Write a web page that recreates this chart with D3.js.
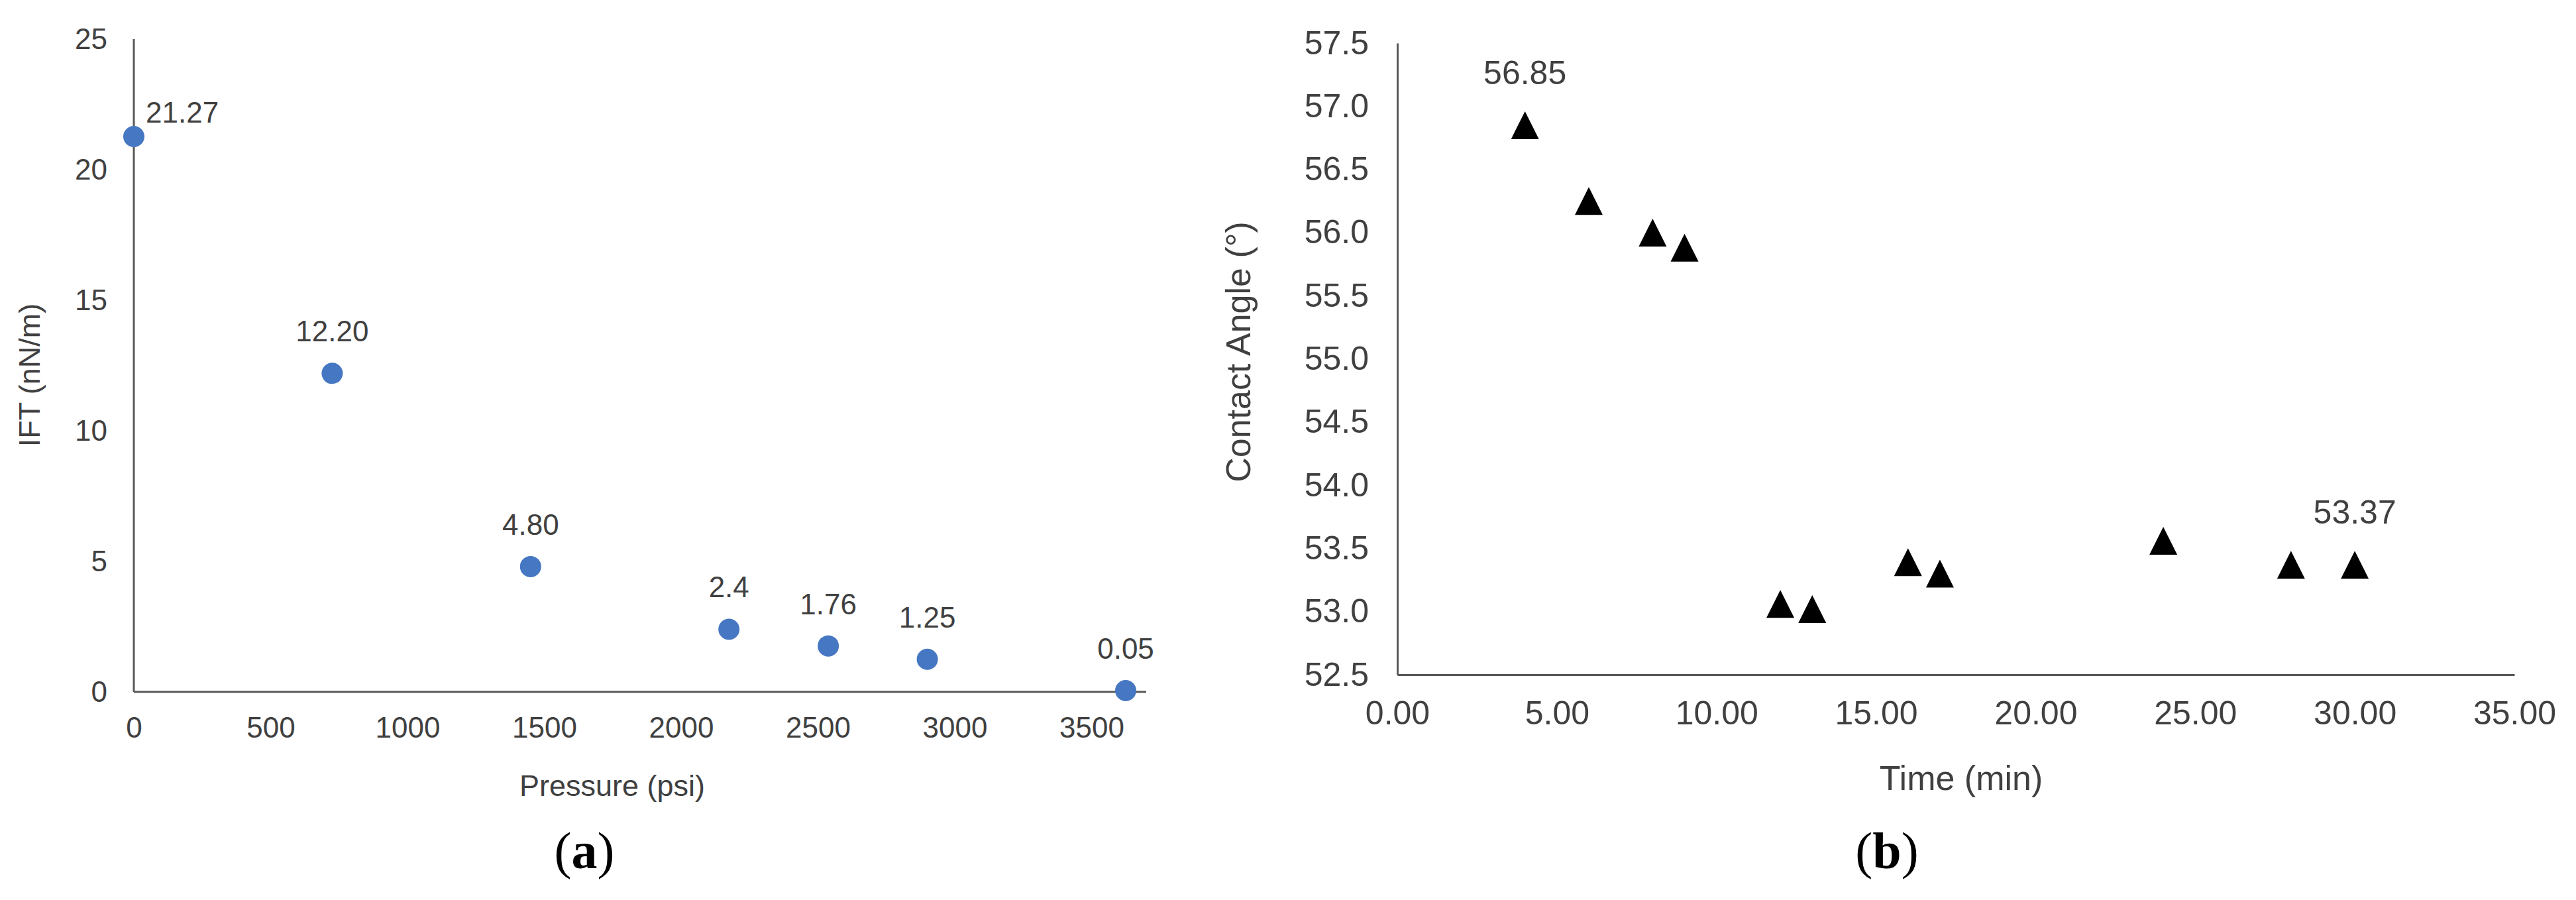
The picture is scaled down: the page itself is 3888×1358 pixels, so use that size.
<!DOCTYPE html>
<html>
  <head>
    <style>
      body {
        margin: 0;
        background: #fff;
        font-family: "Liberation Sans", Arial, sans-serif;
      }
      .axis path {
        stroke: #595959;
        stroke-width: 3px;
      }
      .axis text {
        fill: #404040;
        font-family: "Liberation Sans", Arial, sans-serif;
      }
      .label, .title {
        fill: #404040;
      }
      .panel {
        font-family: "Liberation Serif", "Times New Roman", serif;
        font-size: 78px;
        fill: #000;
      }
    </style>
  </head>
  <body>
    <script src="https://d3js.org/d3.v7.min.js"></script>
    <script>
    // panel (a): IFT vs pressure
      var pressure = [0, 725, 1450, 2175, 2538, 2900, 3625];
      var ift = [21.27, 12.20, 4.80, 2.40, 1.76, 1.25, 0.05];
      var iftLabels = ["21.27", "12.20", "4.80", "2.4", "1.76", "1.25", "0.05"];
      var pressureTicks = [0, 500, 1000, 1500, 2000, 2500, 3000, 3500];
      var iftTicks = [0, 5, 10, 15, 20, 25];

    // panel (b): contact angle vs time
      var time = [4, 6, 8, 9, 12, 13, 16, 17, 24, 28, 30];
      var angle = [56.85, 56.25, 56.00, 55.88, 53.06, 53.02, 53.39, 53.30, 53.56, 53.37, 53.37];
      var angleLabels = ["56.85", "", "", "", "", "", "", "", "", "", "53.37"];
      var timeTicks = [0, 5, 10, 15, 20, 25, 30, 35];
      var angleTicks = [52.5, 53, 53.5, 54, 54.5, 55, 55.5, 56, 56.5, 57, 57.5];

      var svg = d3.select("body").append("svg")
          .attr("width", 3888)
          .attr("height", 1358);

    //---------- (a) ----------
      var xa = d3.scaleLinear().domain([0, 3700]).range([202, 1730]);
      var ya = d3.scaleLinear().domain([0, 25]).range([1044, 59]);
      var ga = svg.append("g");

      ga.append("g").attr("class", "axis")
          .attr("transform", "translate(0," + ya(0) + ")")
          .call(d3.axisBottom(xa).tickValues(pressureTicks).tickSize(0).tickPadding(38).tickFormat(d3.format("d")))
          .selectAll("text").style("font-size", "44px");
      ga.append("g").attr("class", "axis")
          .attr("transform", "translate(" + xa(0) + ",0)")
          .call(d3.axisLeft(ya).tickValues(iftTicks).tickSize(0).tickPadding(40).tickFormat(d3.format("d")))
          .selectAll("text").style("font-size", "44px");
      ga.selectAll(".axis .domain").attr("d", function(d, i) {
        return i == 0 ? "M" + xa(0) + ",0H" + xa(3700) : "M0," + ya(0) + "V" + ya(25);
      });

      var ptsA = d3.zip(pressure, ift, iftLabels);
      ga.selectAll("circle").data(ptsA).enter().append("circle")
          .attr("cx", d => xa(d[0]))
          .attr("cy", d => ya(d[1]))
          .attr("r", 16)
          .attr("fill", "#4677c2");
      ga.selectAll(".label").data(ptsA).enter().append("text")
          .attr("class", "label")
          .attr("x", (d, i) => i == 0 ? xa(d[0]) + 18 : xa(d[0]))
          .attr("y", (d, i) => i == 0 ? ya(d[1]) - 21 : ya(d[1]) - 48)
          .attr("text-anchor", (d, i) => i == 0 ? "start" : "middle")
          .style("font-size", "44px")
          .text(d => d[2]);

      ga.append("text").attr("class", "title")
          .attr("x", 924).attr("y", 1201)
          .attr("text-anchor", "middle")
          .style("font-size", "45px")
          .text("Pressure (psi)");
      ga.append("text").attr("class", "title")
          .attr("transform", "translate(60,566) rotate(-90)")
          .attr("text-anchor", "middle")
          .style("font-size", "45px")
          .text("IFT (nN/m)");

      var pa = ga.append("text").attr("class", "panel")
          .attr("x", 882).attr("y", 1310).attr("text-anchor", "middle");
      pa.append("tspan").text("(");
      pa.append("tspan").style("font-weight", "bold").text("a");
      pa.append("tspan").text(")");

    //---------- (b) ----------
      var xb = d3.scaleLinear().domain([0, 35]).range([2109, 3795]);
      var yb = d3.scaleLinear().domain([52.5, 57.5]).range([1018, 65]);
      var gb = svg.append("g");

      gb.append("g").attr("class", "axis")
          .attr("transform", "translate(0," + yb(52.5) + ")")
          .call(d3.axisBottom(xb).tickValues(timeTicks).tickSize(0).tickPadding(39).tickFormat(d3.format(".2f")))
          .selectAll("text").style("font-size", "50px");
      gb.append("g").attr("class", "axis")
          .attr("transform", "translate(" + xb(0) + ",0)")
          .call(d3.axisLeft(yb).tickValues(angleTicks).tickSize(0).tickPadding(43).tickFormat(d3.format(".1f")))
          .selectAll("text").style("font-size", "50px");

    // Excel style triangle: as wide as tall
      var triangle = {
        draw: function(ctx, size) {
          var r = Math.sqrt(size) / 2;
          ctx.moveTo(0, -r);
          ctx.lineTo(r, r);
          ctx.lineTo(-r, r);
          ctx.closePath();
        }
      };
      var ptsB = d3.zip(time, angle, angleLabels);
      gb.selectAll("path.mark").data(ptsB).enter().append("path")
          .attr("class", "mark")
          .attr("d", d3.symbol().type(triangle).size(42 * 42))
          .attr("transform", d => "translate(" + xb(d[0]) + "," + yb(d[1]) + ")")
          .attr("fill", "#000");
      gb.selectAll(".label").data(ptsB.filter(d => d[2] != "")).enter().append("text")
          .attr("class", "label")
          .attr("x", d => xb(d[0]))
          .attr("y", d => yb(d[1]) - 62)
          .attr("text-anchor", "middle")
          .style("font-size", "50px")
          .text(d => d[2]);

      gb.append("text").attr("class", "title")
          .attr("x", 2960).attr("y", 1192)
          .attr("text-anchor", "middle")
          .style("font-size", "52px")
          .text("Time (min)");
      gb.append("text").attr("class", "title")
          .attr("transform", "translate(1887,531) rotate(-90)")
          .attr("text-anchor", "middle")
          .style("font-size", "52px")
          .text("Contact Angle (°)");

      var pb = gb.append("text").attr("class", "panel")
          .attr("x", 2848).attr("y", 1310).attr("text-anchor", "middle");
      pb.append("tspan").text("(");
      pb.append("tspan").style("font-weight", "bold").text("b");
      pb.append("tspan").text(")");
    </script>
  </body>
</html>
